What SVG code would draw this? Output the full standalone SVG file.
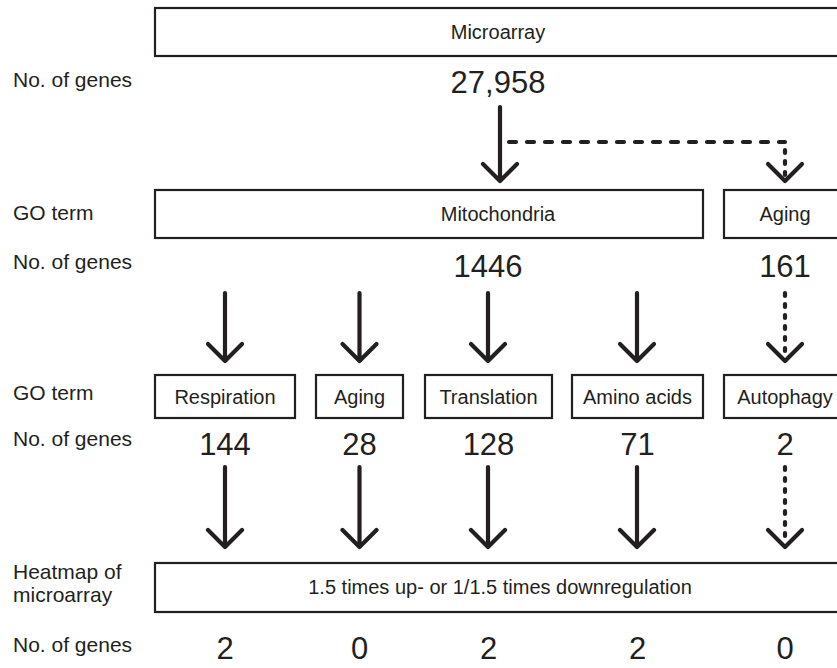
<svg xmlns="http://www.w3.org/2000/svg" width="837" height="668" viewBox="0 0 837 668">
<style>
  .box{fill:#fff;stroke:#231f20;stroke-width:2.2}
  .lbl{font-family:"Liberation Sans",Arial,sans-serif;font-size:21px;fill:#231f20}
  .bt{font-family:"Liberation Sans",Arial,sans-serif;font-size:20px;fill:#231f20;text-anchor:middle}
  .num{font-family:"Liberation Sans",Arial,sans-serif;font-size:31px;fill:#231f20;text-anchor:middle}
  .ln{fill:none;stroke:#231f20;stroke-width:4.2;stroke-linecap:round;stroke-linejoin:round}
  .dh{stroke-dasharray:7 11}
  .dv{stroke-dasharray:3 8}
</style>
<rect width="837" height="668" fill="#fff"/>

<g id="row-labels">
  <text class="lbl" x="13" y="87">No. of genes</text>
  <text class="lbl" x="13" y="220">GO term</text>
  <text class="lbl" x="13" y="269">No. of genes</text>
  <text class="lbl" x="13" y="400">GO term</text>
  <text class="lbl" x="13" y="446">No. of genes</text>
  <text class="lbl" x="13" y="579">Heatmap of</text>
  <text class="lbl" x="13" y="602">microarray</text>
  <text class="lbl" x="13" y="652">No. of genes</text>
</g>

<g id="microarray">
  <rect class="box" x="155" y="8" width="700" height="48"/>
  <text class="bt" x="498" y="39">Microarray</text>
  <text class="num" x="498" y="93">27,958</text>
</g>

<g id="mitochondria">
  <rect class="box" x="155" y="190" width="548" height="48"/>
  <text class="bt" x="498" y="221">Mitochondria</text>
  <text class="num" x="488" y="277">1446</text>
</g>

<g id="aging-1">
  <rect class="box" x="724" y="190" width="130" height="48"/>
  <text class="bt" x="785" y="221">Aging</text>
  <text class="num" x="785" y="277">161</text>
</g>

<g id="respiration">
  <rect class="box" x="155" y="375" width="140" height="43"/>
  <text class="bt" x="225" y="404">Respiration</text>
  <text class="num" x="225" y="455">144</text>
</g>

<g id="aging-2">
  <rect class="box" x="316" y="375" width="87" height="43"/>
  <text class="bt" x="359.5" y="404">Aging</text>
  <text class="num" x="359.5" y="455">28</text>
</g>

<g id="translation">
  <rect class="box" x="425" y="375" width="127" height="43"/>
  <text class="bt" x="488.5" y="404">Translation</text>
  <text class="num" x="488.5" y="455">128</text>
</g>

<g id="amino-acids">
  <rect class="box" x="572" y="375" width="131" height="43"/>
  <text class="bt" x="637.5" y="404">Amino acids</text>
  <text class="num" x="637.5" y="455">71</text>
</g>

<g id="autophagy">
  <rect class="box" x="724" y="375" width="130" height="43"/>
  <text class="bt" x="785" y="404">Autophagy</text>
  <text class="num" x="785" y="455">2</text>
</g>

<g id="heatmap">
  <rect class="box" x="155" y="563" width="700" height="49"/>
  <text class="bt" x="500" y="594">1.5 times up- or 1/1.5 times downregulation</text>
  <text class="num" x="225" y="659">2</text>
  <text class="num" x="359.5" y="659">0</text>
  <text class="num" x="488.5" y="659">2</text>
  <text class="num" x="637.5" y="659">2</text>
  <text class="num" x="785" y="659">0</text>
</g>

<g id="connectors">
  <!-- microarray to mitochondria -->
  <path class="ln" d="M500 107V181M483 164L500 181L517 164"/>
  <!-- microarray to aging (dashed) -->
  <path class="ln dh" d="M509 142H785"/>
  <path class="ln dv" d="M785 150V180"/>
  <path class="ln" d="M768 164L785 181L802 164"/>

  <!-- mitochondria to GO terms -->
  <path class="ln" d="M225 293V361M208 344L225 361L242 344"/>
  <path class="ln" d="M359.5 293V361M342.5 344L359.5 361L376.5 344"/>
  <path class="ln" d="M488 293V361M471 344L488 361L505 344"/>
  <path class="ln" d="M637 293V361M620 344L637 361L654 344"/>
  <!-- aging to autophagy (dashed) -->
  <path class="ln dv" d="M785 293V358"/>
  <path class="ln" d="M768 344L785 361L802 344"/>

  <!-- GO terms to heatmap -->
  <path class="ln" d="M225 467V547M208 530L225 547L242 530"/>
  <path class="ln" d="M359.5 467V547M342.5 530L359.5 547L376.5 530"/>
  <path class="ln" d="M488 467V547M471 530L488 547L505 530"/>
  <path class="ln" d="M637 467V547M620 530L637 547L654 530"/>
  <path class="ln dv" d="M785 467V544"/>
  <path class="ln" d="M768 530L785 547L802 530"/>
</g>
</svg>
